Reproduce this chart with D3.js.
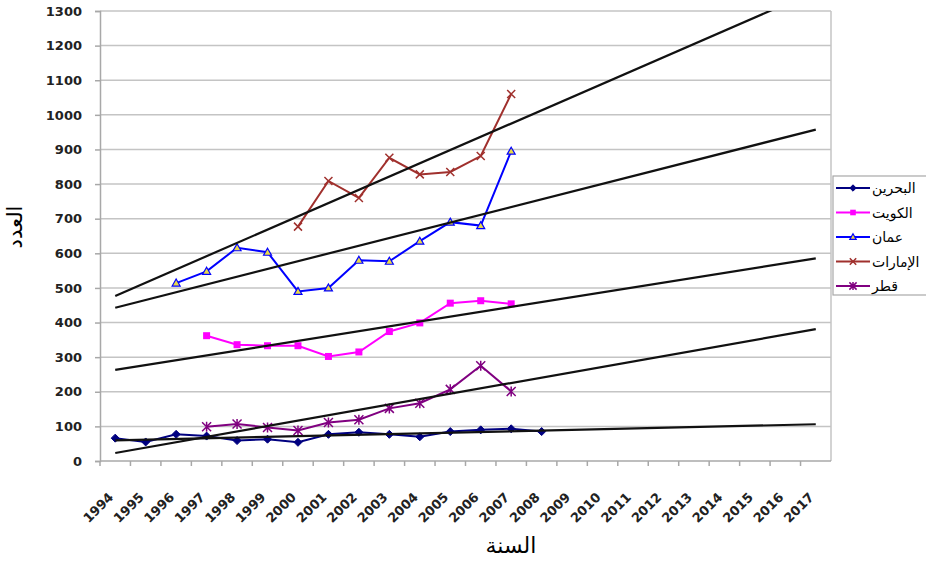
<!DOCTYPE html>
<html>
<head>
<meta charset="utf-8">
<script src="https://cdn.jsdelivr.net/npm/d3@7"></script>
<style>
  html, body { margin: 0; padding: 0; background: #fff; }
  svg { display: block; }
</style>
</head>
<body>
<svg id="chart" width="926" height="561"></svg>
<script>
// ---- data ----
const years = ["1994","1995","1996","1997","1998","1999","2000","2001","2002","2003","2004","2005",
               "2006","2007","2008","2009","2010","2011","2012","2013","2014","2015","2016","2017"];
const yTicks = [0,100,200,300,400,500,600,700,800,900,1000,1100,1200,1300];
const seriesNames = ["البحرين","الكويت","عمان","الإمارات","قطر"];
const bahrain = [66,55,77,72,59,63,54,77,83,77,70,85,90,93,85,null,null,null,null,null,null,null,null,null];
const kuwait  = [null,null,null,362,336,333,333,302,315,374,399,456,463,454,null,null,null,null,null,null,null,null,null,null];
const oman    = [null,null,514,548,616,603,490,500,580,577,635,690,680,895,null,null,null,null,null,null,null,null,null,null];
const uae     = [null,null,null,null,null,null,677,809,760,876,828,835,881,1060,null,null,null,null,null,null,null,null,null,null];
const qatar   = [null,null,null,99,107,97,88,111,119,152,167,207,275,201,null,null,null,null,null,null,null,null,null,null];
const xTitle = "السنة";
const yTitle = "العدد";

const seriesValues = [bahrain, kuwait, oman, uae, qatar];
const colors = ["#000080","#ff00ff","#0000ff","#a0302d","#800080"];
const markerTypes = ["diamond","square","triangle","x","asterisk"];

// ---- layout ----
const svg = d3.select("#chart");
const L = 100, R = 831, T = 11, B = 461;
const x = d3.scaleBand().domain(years).range([L, R]);
const y = d3.scaleLinear().domain([0, 1300]).range([B, T]);
const cx = d => x(d) + x.bandwidth() / 2;

// gridlines
svg.append("g").selectAll("line").data(yTicks.filter(v => v > 0)).join("line")
  .attr("x1", L).attr("x2", R).attr("y1", d => y(d)).attr("y2", d => y(d))
  .attr("stroke", "#c4c4c4").attr("stroke-width", 1.5);
// right border
svg.append("line").attr("x1", R).attr("x2", R).attr("y1", T).attr("y2", B)
  .attr("stroke", "#c4c4c4").attr("stroke-width", 1.5);

// y axis
const yAxis = d3.axisLeft(y).tickValues(yTicks).tickSize(5).tickPadding(13).tickFormat(d3.format("d"));
const gy = svg.append("g").attr("transform", `translate(${L},0)`).call(yAxis);
gy.select(".domain").attr("stroke", "#a8a8a8").attr("stroke-width", 1.5);
gy.selectAll(".tick line").attr("stroke", "#a8a8a8").attr("stroke-width", 1.5);
gy.selectAll(".tick text").attr("font-family", "DejaVu Sans, sans-serif").attr("font-weight", "bold")
  .attr("font-size", 13).attr("fill", "#222");

// x axis line + ticks at band boundaries
svg.append("line").attr("x1", L).attr("x2", R).attr("y1", B).attr("y2", B)
  .attr("stroke", "#a8a8a8").attr("stroke-width", 1.5);
svg.append("g").selectAll("line").data(years).join("line")
  .attr("x1", d => x(d)).attr("x2", d => x(d)).attr("y1", B).attr("y2", B + 5)
  .attr("stroke", "#a8a8a8").attr("stroke-width", 1.5);
svg.append("g").selectAll("text").data(years).join("text")
  .attr("transform", d => `translate(${cx(d) - 1},${B + 37}) rotate(-45)`)
  .attr("text-anchor", "end")
  .attr("font-family", "DejaVu Sans, sans-serif").attr("font-weight", "bold")
  .attr("font-size", 13).attr("fill", "#222")
  .text(d => d);

// clip
svg.append("defs").append("clipPath").attr("id", "plotClip")
  .append("rect").attr("x", L).attr("y", T).attr("width", R - L).attr("height", B - T);

// markers
function drawMarker(g, type, color, px, py, s) {
  s = s || 1;
  if (type === "diamond") {
    g.append("path").attr("d", `M${px},${py-4*s}L${px+4*s},${py}L${px},${py+4*s}L${px-4*s},${py}Z`)
      .attr("fill", color).attr("stroke", color).attr("stroke-width", 1);
  } else if (type === "square") {
    g.append("rect").attr("x", px-3.5*s).attr("y", py-3.5*s).attr("width", 7*s).attr("height", 7*s)
      .attr("fill", color);
  } else if (type === "triangle") {
    g.append("path").attr("d", `M${px},${py-4*s}L${px+4*s},${py+3*s}L${px-4*s},${py+3*s}Z`)
      .attr("fill", "#e8d84a").attr("stroke", color).attr("stroke-width", 1.2);
  } else if (type === "x") {
    g.append("path").attr("d", `M${px-4*s},${py-4*s}L${px+4*s},${py+4*s}M${px+4*s},${py-4*s}L${px-4*s},${py+4*s}`)
      .attr("stroke", color).attr("stroke-width", 1.5).attr("fill", "none");
  } else if (type === "asterisk") {
    g.append("path").attr("d", `M${px-4.5*s},${py-4.5*s}L${px+4.5*s},${py+4.5*s}M${px+4.5*s},${py-4.5*s}L${px-4.5*s},${py+4.5*s}M${px},${py-5*s}L${px},${py+5*s}`)
      .attr("stroke", color).attr("stroke-width", 1.5).attr("fill", "none");
  }
}

const line = d3.line().defined(d => d.v != null).x(d => cx(d.year)).y(d => y(d.v));
const plot = svg.append("g").attr("clip-path", "url(#plotClip)");

// data series
seriesValues.forEach((vals, i) => {
  const pts = years.map((yr, k) => ({ year: yr, v: vals[k] }));
  plot.append("path").datum(pts).attr("d", line)
    .attr("fill", "none").attr("stroke", colors[i]).attr("stroke-width", 2);
  const mg = plot.append("g");
  pts.filter(p => p.v != null).forEach(p => drawMarker(mg, markerTypes[i], colors[i], cx(p.year), y(p.v)));
});

// linear trendlines (least squares on category index), forecast across all categories
seriesValues.forEach((vals) => {
  const pts = vals.map((v, k) => ({ k, v })).filter(p => p.v != null);
  const mx = d3.mean(pts, p => p.k), my = d3.mean(pts, p => p.v);
  const sxy = d3.sum(pts, p => (p.k - mx) * (p.v - my));
  const sxx = d3.sum(pts, p => (p.k - mx) * (p.k - mx));
  const slope = sxy / sxx, icpt = my - slope * mx;
  const k0 = 0, k1 = years.length - 1;
  plot.append("line")
    .attr("x1", cx(years[k0])).attr("y1", y(icpt + slope * k0))
    .attr("x2", cx(years[k1])).attr("y2", y(icpt + slope * k1))
    .attr("stroke", "#111").attr("stroke-width", 2.2);
});

// legend
const lg = svg.append("g");
lg.append("rect").attr("x", 833).attr("y", 176).attr("width", 100).attr("height", 119)
  .attr("fill", "#fff").attr("stroke", "#a8a8a8").attr("stroke-width", 1.2);
seriesNames.forEach((name, i) => {
  const ly = 188 + i * 24.5;
  lg.append("line").attr("x1", 836).attr("x2", 870).attr("y1", ly).attr("y2", ly)
    .attr("stroke", colors[i]).attr("stroke-width", 2);
  drawMarker(lg, markerTypes[i], colors[i], 853, ly, 0.8);
  lg.append("text").attr("x", 872).attr("y", ly + 5)
    .attr("font-family", "DejaVu Sans, sans-serif").attr("font-size", 14).attr("fill", "#000")
    .text(name);
});

// axis titles
svg.append("text").attr("transform", "translate(22,227) rotate(-90)").attr("text-anchor", "middle")
  .attr("font-family", "DejaVu Sans, sans-serif").attr("font-size", 21).attr("fill", "#000")
  .text(yTitle);
svg.append("text").attr("x", 511).attr("y", 553).attr("text-anchor", "middle")
  .attr("font-family", "DejaVu Sans, sans-serif").attr("font-size", 22).attr("fill", "#000")
  .text(xTitle);
</script>
</body>
</html>
